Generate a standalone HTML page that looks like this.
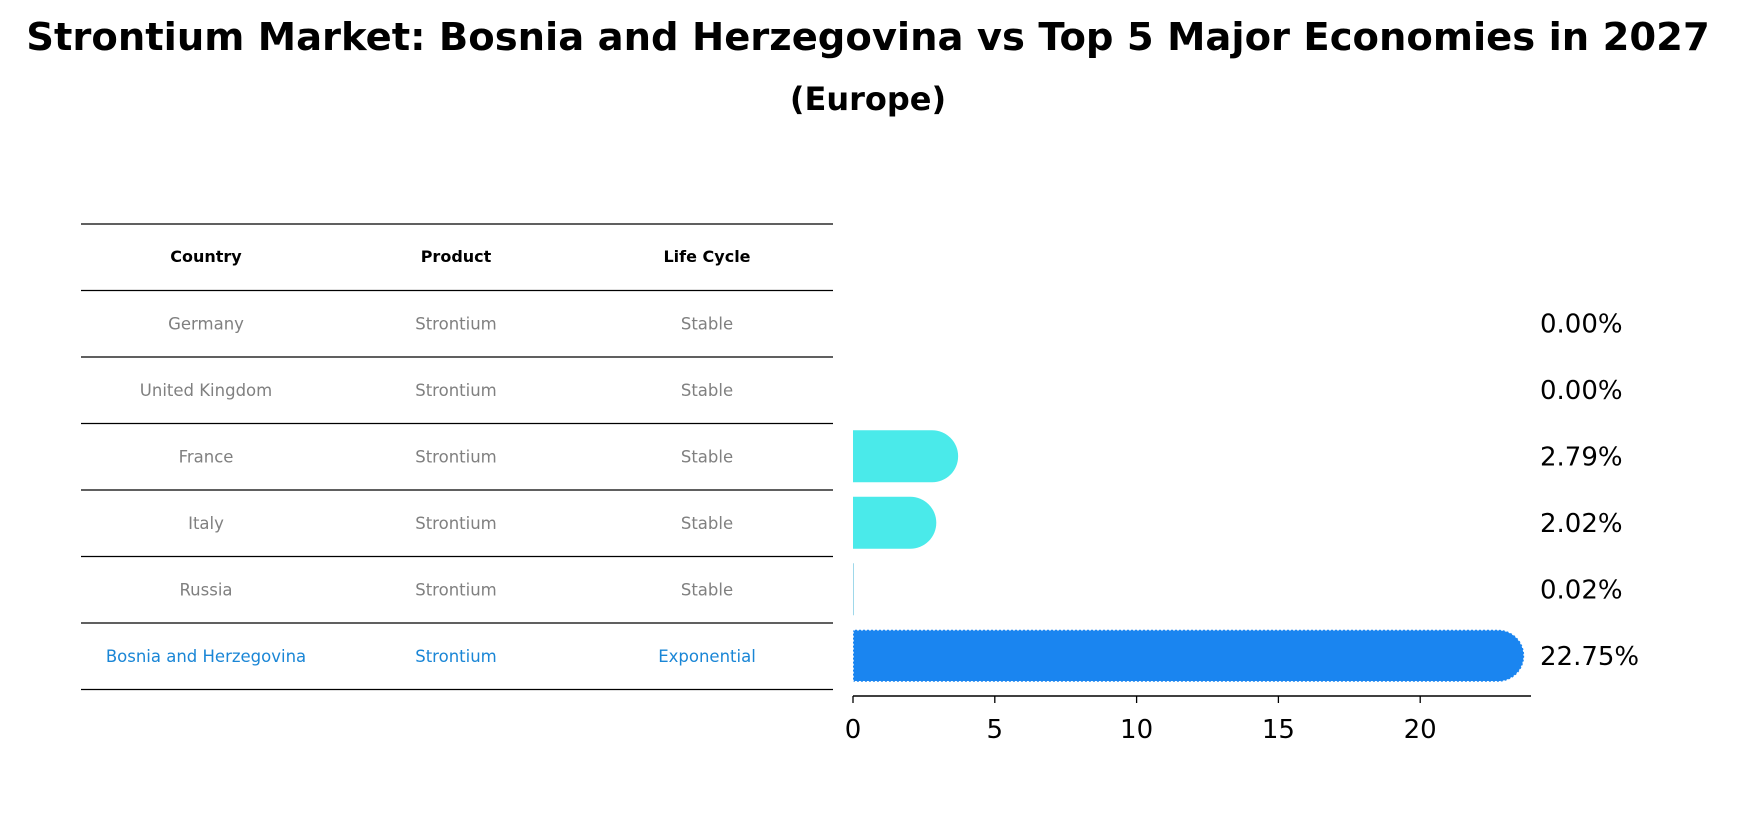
<!DOCTYPE html>
<html><head><meta charset="utf-8"><style>
body{margin:0;background:#fff;font-family:"DejaVu Sans","Liberation Sans",sans-serif;}
</style></head><body>
<svg width="1737" height="823" viewBox="0 0 1737 823" xmlns="http://www.w3.org/2000/svg">
<text x="868" y="50" text-anchor="middle" font-size="38.5" font-weight="bold">Strontium Market: Bosnia and Herzegovina vs Top 5 Major Economies in 2027</text>
<text x="868" y="110" text-anchor="middle" font-size="32" font-weight="bold">(Europe)</text>
<g id="table"></g>
<g id="bars"></g>
</svg>
<script>
const countries=["Germany","United Kingdom","France","Italy","Russia","Bosnia and Herzegovina"];
const products=["Strontium","Strontium","Strontium","Strontium","Strontium","Strontium"];
const lifeCycles=["Stable","Stable","Stable","Stable","Stable","Exponential"];
const values=[0.00,0.00,2.79,2.02,0.02,22.75];
const ticks=[0,5,10,15,20];
const NS="http://www.w3.org/2000/svg";
function mk(p,t,a){const e=document.createElementNS(NS,t);for(const k in a)e.setAttribute(k,a[k]);p.appendChild(e);return e;}
const x0=853,ppu=28.36,rowTop=290,rowH=66.5,barH=52;
const xs=v=>x0+v*ppu;
const yc=i=>rowTop+rowH*(i+0.5);
const tbl=document.getElementById('table');
const colX=[206,456,707];
for(let i=0;i<=countries.length+1;i++){
  const l=mk(tbl,'line',{x1:81,x2:833,y1:224+i*rowH,y2:224+i*rowH,stroke:'#000','stroke-width':1.2});
  
  
}
["Country","Product","Life Cycle"].forEach((h,j)=>{
  const t=mk(tbl,'text',{x:colX[j],y:257+5,'text-anchor':'middle','font-size':16,'font-weight':'bold'});
  t.textContent=h;
  
  
});
countries.forEach((c,i)=>{
  const last=i===countries.length-1;
  [c,products[i],lifeCycles[i]].forEach((s,j)=>{
    const t=mk(tbl,'text',{x:colX[j],y:yc(i)+6,'text-anchor':'middle','font-size':16.5,fill:last?'#1a86d6':'#808080'});
    t.textContent=s;
    
    
  });
});
const bg=document.getElementById('bars');
values.forEach((v,i)=>{
  const last=i===values.length-1;
  const col=last?'#1a85f0':'#4aeaea';
  const y=yc(i)-barH/2,xe=xs(v),r=barH/2;
  if(v>0){
    let d;
    if(v<0.2){d=`M${x0},${y}h${Math.max(xe-x0,1)}v${barH}h${-Math.max(xe-x0,1)}Z`;}
    else d=`M${x0},${y}H${xe}A${r},${r} 0 0 1 ${xe},${y+barH}H${x0}Z`;
    const p=mk(bg,'path',{d:d,fill:col});
    if(v<0.2)p.setAttribute('fill','#9fd8ea');
    if(last){p.setAttribute('stroke','#fff');p.setAttribute('stroke-dasharray','2 2');p.setAttribute('stroke-width','1.5');}
    
    
  }
  const t=mk(bg,'text',{x:1540,y:yc(i)+9,'font-size':26});
  t.textContent=v.toFixed(2)+'%';
  
  
});
const ax=mk(bg,'line',{x1:x0,x2:1531,y1:696,y2:696,stroke:'#000','stroke-width':1.5});


ticks.forEach(tk=>{
  const l=mk(bg,'line',{x1:xs(tk),x2:xs(tk),y1:696,y2:703,stroke:'#000','stroke-width':1.3});
  
  
  const t=mk(bg,'text',{x:xs(tk),y:738,'text-anchor':'middle','font-size':26});
  t.textContent=tk;
  
  
});
</script>
</body></html>
